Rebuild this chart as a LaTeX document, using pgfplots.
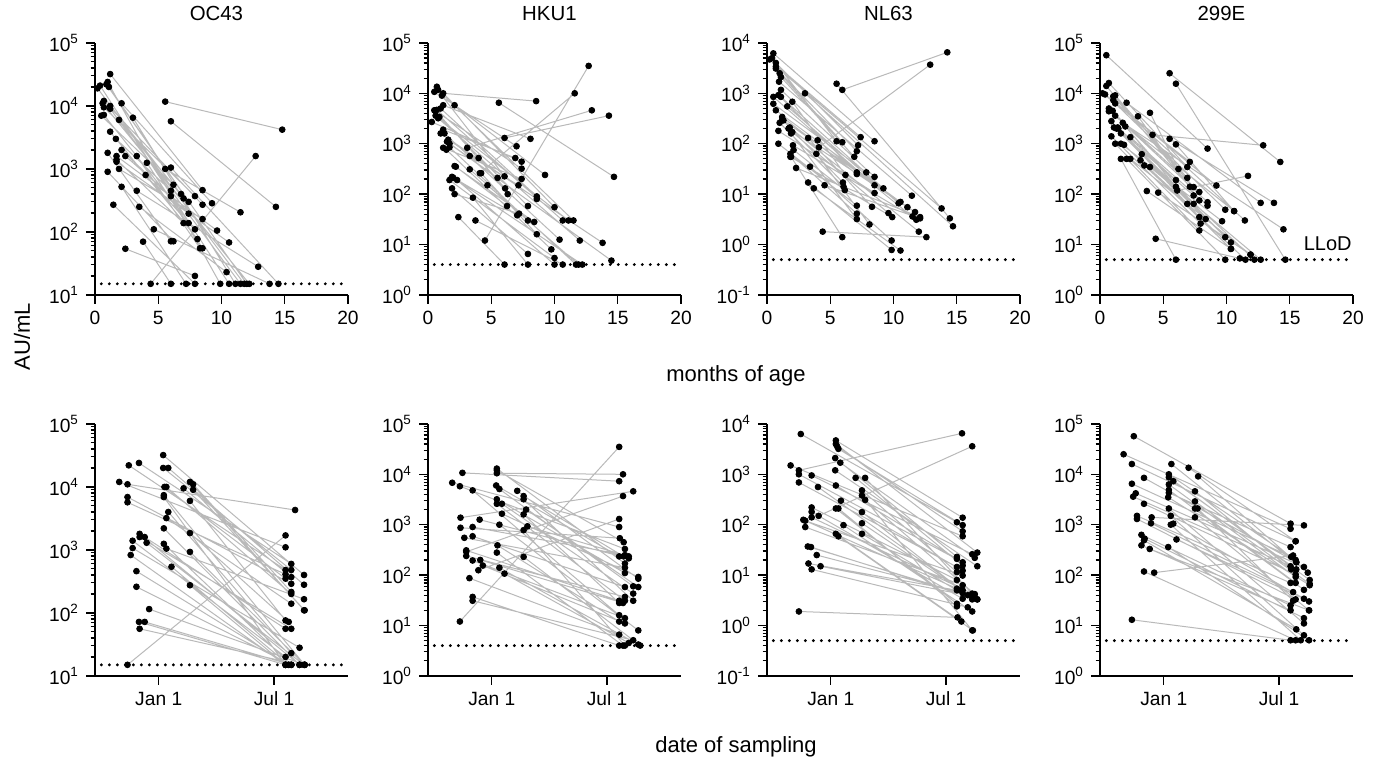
\documentclass[border=0pt]{standalone}
\usepackage{fontspec}
\setmainfont{Liberation Sans}
\usepackage{pgfplots}
\usepackage{pgfplotstable}
\pgfplotsset{compat=1.18}
\definecolor{linegray}{RGB}{185,185,185}

% each line: first sample, second sample, break
\pgfplotstableread[row sep=\\]{x y\\
0.2 1.9e4\\ 11.8 15\\ nan nan\\
0.4 2.1e4\\ 10.6 15\\ nan nan\\
0.9 2.2e4\\ 12.0 15\\ nan nan\\
1.0 2.4e4\\ 9.9 15\\ nan nan\\
1.2 3.2e4\\ 8.5 460\\ nan nan\\
1.1 2e4\\ 7.4 300\\ nan nan\\
0.7 1.2e4\\ 8.5 270\\ nan nan\\
0.6 1.1e4\\ 12.2 15\\ nan nan\\
0.7 9.5e3\\ 7.9 370\\ nan nan\\
1.2 1e4\\ 7.0 340\\ nan nan\\
1.2 9e3\\ 11.5 15\\ nan nan\\
0.5 7e3\\ 6.2 560\\ nan nan\\
0.7 7.2e3\\ 7.9 110\\ nan nan\\
2.1 1.1e4\\ 9.25 285\\ nan nan\\
1.9 6e3\\ 6.8 400\\ nan nan\\
3.0 6.5e3\\ 11.1 15\\ nan nan\\
1.2 3.9e3\\ 8.1 77\\ nan nan\\
1.65 3e3\\ 6.0 450\\ nan nan\\
2.1 2e3\\ 7.4 195\\ nan nan\\
1.7 1.6e3\\ 9.65 105\\ nan nan\\
1.7 1.4e3\\ 7.0 138\\ nan nan\\
1.7 1.3e3\\ 10.6 68\\ nan nan\\
2.4 1.6e3\\ 6.0 370\\ nan nan\\
1.0 1.8e3\\ 6.0 71\\ nan nan\\
1.9 1e3\\ 8.5 160\\ nan nan\\
1.0 900\\ 6.2 71\\ nan nan\\
3.3 1.6e3\\ 8.3 55\\ nan nan\\
4.1 1.25e3\\ 8.5 55\\ nan nan\\
4.0 800\\ 7.4 138\\ nan nan\\
2.1 520\\ 7.2 15\\ nan nan\\
3.3 450\\ 12.9 28\\ nan nan\\
1.45 270\\ 7.9 15\\ nan nan\\
3.5 250\\ 10.4 23\\ nan nan\\
2.4 54\\ 7.9 20\\ nan nan\\
3.8 70\\ 6.0 15\\ nan nan\\
4.65 110\\ 13.8 15\\ nan nan\\
4.4 15\\ 12.7 1.6e3\\ nan nan\\
5.55 1.17e4\\ 14.8 4.2e3\\ nan nan\\
6.0 5.7e3\\ 14.3 250\\ nan nan\\
5.55 1e3\\ 11.5 205\\ nan nan\\
6.0 1.05e3\\ 14.5 15\\ nan nan\\
}\octop

\pgfplotstableread[row sep=\\]{x y\\
-49 15\\ 199 1.7e3\\ nan nan\\
-49 1.1e4\\ 214 4.3e3\\ nan nan\\
-47 2.2e4\\ 199 480\\ nan nan\\
-31 2.4e4\\ 208 600\\ nan nan\\
-62 1.2e4\\ 199 1.1e3\\ nan nan\\
-49 6.9e3\\ 208 290\\ nan nan\\
-49 5.7e3\\ 199 410\\ nan nan\\
-41 1.4e3\\ 199 20\\ nan nan\\
-41 1.07e3\\ 221 28\\ nan nan\\
-44 830\\ 199 15\\ nan nan\\
-35 460\\ 204 15\\ nan nan\\
-35 260\\ 208 15\\ nan nan\\
-30 1.8e3\\ 221 15\\ nan nan\\
-30 1.6e3\\ 208 56\\ nan nan\\
-22 1.6e3\\ 199 56\\ nan nan\\
-19 1.3e3\\ 228 15\\ nan nan\\
-31 72\\ 199 15\\ nan nan\\
-22 72\\ 208 15\\ nan nan\\
-30 56\\ 221 15\\ nan nan\\
-15 115\\ 229 15\\ nan nan\\
7 3.2e4\\ 228 400\\ nan nan\\
7 2e4\\ 208 480\\ nan nan\\
15 2e4\\ 228 280\\ nan nan\\
9 1e4\\ 199 350\\ nan nan\\
12 1e4\\ 208 200\\ nan nan\\
8 7.4e3\\ 229 15\\ nan nan\\
8 6.9e3\\ 199 15\\ nan nan\\
15 4e3\\ 208 23\\ nan nan\\
12 3.2e3\\ 208 140\\ nan nan\\
8 2.2e3\\ 221 15\\ nan nan\\
8 1.25e3\\ 208 15\\ nan nan\\
12 1.05e3\\ 228 165\\ nan nan\\
20 540\\ 204 15\\ nan nan\\
39 9.5e3\\ 208 370\\ nan nan\\
49 1.2e4\\ 228 110\\ nan nan\\
54 1.1e4\\ 208 215\\ nan nan\\
54 9e3\\ 229 110\\ nan nan\\
49 6e3\\ 199 76\\ nan nan\\
49 1.85e3\\ 204 72\\ nan nan\\
49 930\\ 229 15\\ nan nan\\
49 275\\ 199 15\\ nan nan\\
}\ocbot

\pgfplotstableread[row sep=\\]{x y\\
1.2 1e4\\ 8.55 7e3\\ nan nan\\
5.6 6.5e3\\ 14.7 220\\ nan nan\\
4.5 12\\ 12.7 3.5e4\\ nan nan\\
6.05 1.3e3\\ 14.3 3.6e3\\ nan nan\\
3.1 830\\ 12.95 4.6e3\\ nan nan\\
4.1 260\\ 11.6 1e4\\ nan nan\\
0.3 2.7e3\\ 7.4 440\\ nan nan\\
0.5 1.07e4\\ 7.0 890\\ nan nan\\
0.7 1.35e4\\ 10.0 55\\ nan nan\\
0.8 1.17e4\\ 11.5 30\\ nan nan\\
0.5 4.6e3\\ 7.4 320\\ nan nan\\
0.7 4.7e3\\ 10.65 30\\ nan nan\\
1.0 5e3\\ 8.6 90\\ nan nan\\
0.6 3.6e3\\ 11.1 30\\ nan nan\\
0.9 3.4e3\\ 7.9 58\\ nan nan\\
0.8 3.2e3\\ 12.0 12\\ nan nan\\
1.2 5.8e3\\ 8.1 1.25e3\\ nan nan\\
1.2 1.9e3\\ 6.9 520\\ nan nan\\
1.0 1.6e3\\ 8.6 80\\ nan nan\\
1.3 1.6e3\\ 10.4 12.5\\ nan nan\\
1.2 830\\ 7.4 200\\ nan nan\\
1.45 760\\ 9.75 8\\ nan nan\\
1.6 1.2e3\\ 13.8 10.8\\ nan nan\\
1.7 1e3\\ 14.5 4.8\\ nan nan\\
1.7 850\\ 11.7 4\\ nan nan\\
2.1 5.8e3\\ 9.25 240\\ nan nan\\
1.7 190\\ 10.0 5.4\\ nan nan\\
1.9 220\\ 7.05 38\\ nan nan\\
2.0 210\\ 12.2 4\\ nan nan\\
1.9 130\\ 7.9 6.5\\ nan nan\\
2.1 100\\ 7.2 41\\ nan nan\\
2.1 360\\ 8.4 28\\ nan nan\\
2.3 190\\ 10.0 4\\ nan nan\\
2.4 35\\ 6.05 4\\ nan nan\\
3.3 570\\ 7.15 150\\ nan nan\\
3.3 310\\ 7.9 30\\ nan nan\\
3.55 85\\ 7.9 4\\ nan nan\\
3.75 30\\ 10.65 4\\ nan nan\\
4.0 520\\ 6.3 100\\ nan nan\\
4.2 260\\ 8.6 16\\ nan nan\\
4.7 150\\ 11.9 4\\ nan nan\\
1.1 9e3\\ 6.05 225\\ nan nan\\
0.6 4.5e3\\ 6.1 130\\ nan nan\\
1.5 1.1e3\\ 5.5 210\\ nan nan\\
2.2 350\\ 6.25 58\\ nan nan\\
}\hktop

\pgfplotstableread[row sep=\\]{x y\\
-50 12\\ 200 3.5e4\\ nan nan\\
-46 1.07e4\\ 200 7.3e3\\ nan nan\\
8 1.05e4\\ 206 1e4\\ nan nan\\
-49 1.38e3\\ 222 4.6e3\\ nan nan\\
-40 290\\ 206 3.7e3\\ nan nan\\
-21 125\\ 200 1.3e3\\ nan nan\\
-62 6.8e3\\ 200 900\\ nan nan\\
-50 5.8e3\\ 209 330\\ nan nan\\
-30 4.8e3\\ 200 16\\ nan nan\\
-49 870\\ 201 540\\ nan nan\\
-43 550\\ 209 140\\ nan nan\\
-30 900\\ 209 250\\ nan nan\\
-30 590\\ 209 58\\ nan nan\\
-40 240\\ 209 37\\ nan nan\\
-40 310\\ 200 31\\ nan nan\\
-30 195\\ 209 14\\ nan nan\\
-19 1.26e3\\ 215 215\\ nan nan\\
-18 200\\ 206 28\\ nan nan\\
-14 155\\ 209 11\\ nan nan\\
-35 87\\ 200 6.6\\ nan nan\\
-30 37\\ 200 4\\ nan nan\\
-30 31\\ 222 5.1\\ nan nan\\
8 1.3e4\\ 209 170\\ nan nan\\
8 1.2e4\\ 207 450\\ nan nan\\
7 6e3\\ 200 235\\ nan nan\\
12 5.1e3\\ 222 60\\ nan nan\\
8 3.2e3\\ 209 110\\ nan nan\\
16 2.6e3\\ 222 43\\ nan nan\\
8 2.6e3\\ 209 31\\ nan nan\\
16 1.65e3\\ 230 92\\ nan nan\\
12 1e3\\ 230 8\\ nan nan\\
9 390\\ 200 12\\ nan nan\\
8 280\\ 206 4\\ nan nan\\
12 140\\ 230 4.2\\ nan nan\\
20 107\\ 215 4.5\\ nan nan\\
40 4.7e3\\ 230 85\\ nan nan\\
50 3.7e3\\ 207 235\\ nan nan\\
50 3.2e3\\ 222 31\\ nan nan\\
54 2e3\\ 230 58\\ nan nan\\
50 1.6e3\\ 200 28\\ nan nan\\
50 780\\ 209 4\\ nan nan\\
56 930\\ 215 235\\ nan nan\\
50 230\\ 233 4\\ nan nan\\
}\hkbot

\pgfplotstableread[row sep=\\]{x y\\
5.95 1.17e3\\ 14.25 6.5e3\\ nan nan\\
4.1 85\\ 12.9 3.7e3\\ nan nan\\
4.4 1.8\\ 12.6 1.4\\ nan nan\\
5.5 1.55e3\\ 14.45 3.3\\ nan nan\\
0.5 6.2e3\\ 8.5 112\\ nan nan\\
0.2 4.7e3\\ 7.4 135\\ nan nan\\
0.7 4e3\\ 7.2 93\\ nan nan\\
0.7 3.4e3\\ 13.8 5.2\\ nan nan\\
0.7 3.1e3\\ 7.1 71\\ nan nan\\
1.1 2.1e3\\ 6.9 55\\ nan nan\\
0.95 1.7e3\\ 11.45 9.3\\ nan nan\\
1.1 1.17e3\\ 8.5 22\\ nan nan\\
0.9 920\\ 7.1 27\\ nan nan\\
1.1 850\\ 9.2 13\\ nan nan\\
0.5 850\\ 8.5 15\\ nan nan\\
0.5 620\\ 7.85 27\\ nan nan\\
0.7 460\\ 11.1 5.5\\ nan nan\\
1.2 340\\ 7.1 25\\ nan nan\\
1.3 290\\ 10.55 7\\ nan nan\\
0.9 180\\ 8.5 10.5\\ nan nan\\
0.9 100\\ 7.1 5.9\\ nan nan\\
1.6 550\\ 10.4 6.6\\ nan nan\\
2.0 680\\ 6.2 24\\ nan nan\\
1.7 200\\ 11.7 4.4\\ nan nan\\
2.0 170\\ 9.6 4.2\\ nan nan\\
2.05 93\\ 11.5 3.6\\ nan nan\\
1.85 63\\ 7.1 4.1\\ nan nan\\
1.85 55\\ 9.9 3.5\\ nan nan\\
2.3 33\\ 12.1 3.5\\ nan nan\\
3.0 1e3\\ 14.7 2.3\\ nan nan\\
3.25 130\\ 8.3 5.6\\ nan nan\\
3.4 35\\ 9.85 1.2\\ nan nan\\
3.25 17\\ 9.85 0.78\\ nan nan\\
3.7 13\\ 10.55 0.76\\ nan nan\\
4.0 117\\ 11.8 3.1\\ nan nan\\
3.9 63\\ 8.1 2.5\\ nan nan\\
4.55 15\\ 12.1 3.3\\ nan nan\\
0.4 5e3\\ 5.5 112\\ nan nan\\
1.0 2.5e3\\ 5.95 107\\ nan nan\\
1.2 300\\ 6.0 17\\ nan nan\\
1.0 260\\ 6.05 14\\ nan nan\\
2.1 75\\ 6.15 12\\ nan nan\\
1.9 55\\ 5.95 1.4\\ nan nan\\
1.8 210\\ 12.0 1.8\\ nan nan\\
1.9 160\\ 7.1 3.2\\ nan nan\\
}\nltop

\pgfplotstableread[row sep=\\]{x y\\
-50 1.2e3\\ 206 6.5e3\\ nan nan\\
-19 150\\ 222 3.6e3\\ nan nan\\
-50 1.9\\ 199 1.45\\ nan nan\\
-47 6.3e3\\ 198 112\\ nan nan\\
-63 1.5e3\\ 207 59\\ nan nan\\
-50 1e3\\ 207 18\\ nan nan\\
-50 690\\ 198 14.5\\ nan nan\\
-30 950\\ 222 26\\ nan nan\\
-20 560\\ 207 5\\ nan nan\\
-30 220\\ 198 8\\ nan nan\\
-30 180\\ 207 3.4\\ nan nan\\
-30 140\\ 222 4.3\\ nan nan\\
-43 125\\ 198 5.4\\ nan nan\\
-40 120\\ 207 9.8\\ nan nan\\
-40 90\\ 207 6.3\\ nan nan\\
-36 37\\ 222 3.7\\ nan nan\\
-31 36\\ 230 3.3\\ nan nan\\
-22 25\\ 207 4.4\\ nan nan\\
-35 17\\ 198 5\\ nan nan\\
-30 13\\ 215 2.3\\ nan nan\\
-16 15\\ 226 3.7\\ nan nan\\
8 4.7e3\\ 207 138\\ nan nan\\
8 4e3\\ 230 28\\ nan nan\\
12 3.2e3\\ 207 98\\ nan nan\\
10 3.6e3\\ 207 74\\ nan nan\\
7 2.1e3\\ 198 23\\ nan nan\\
15 1.7e3\\ 226 22\\ nan nan\\
7 1.2e3\\ 230 15\\ nan nan\\
8 600\\ 198 21\\ nan nan\\
16 300\\ 207 12.3\\ nan nan\\
8 210\\ 198 2.7\\ nan nan\\
12 210\\ 198 2.4\\ nan nan\\
20 98\\ 222 1.9\\ nan nan\\
8 66\\ 205 1.2\\ nan nan\\
12 59\\ 223 0.8\\ nan nan\\
39 850\\ 207 15.5\\ nan nan\\
54 850\\ 230 3.3\\ nan nan\\
49 480\\ 198 11.5\\ nan nan\\
49 380\\ 222 0.8\\ nan nan\\
54 310\\ 226 4.2\\ nan nan\\
49 178\\ 215 4\\ nan nan\\
49 107\\ 205 5\\ nan nan\\
49 66\\ 222 3.3\\ nan nan\\
}\nlbot

\pgfplotstableread[row sep=\\]{x y\\
6.0 1.55e4\\ 14.65 5\\ nan nan\\
5.5 2.5e4\\ 14.25 435\\ nan nan\\
4.15 1.5e3\\ 12.9 930\\ nan nan\\
4.4 13\\ 11.05 5.3\\ nan nan\\
0.5 5.7e4\\ 8.5 800\\ nan nan\\
6.1 118\\ 11.7 230\\ nan nan\\
0.2 1e4\\ 7.1 435\\ nan nan\\
0.4 9.5e3\\ 9.2 148\\ nan nan\\
0.5 1.4e4\\ 7.1 140\\ nan nan\\
0.7 1.6e4\\ 6.9 345\\ nan nan\\
0.7 5e3\\ 7.85 110\\ nan nan\\
0.7 4.4e3\\ 10.6 46\\ nan nan\\
1.05 8.7e3\\ 7.4 138\\ nan nan\\
1.2 9.1e3\\ 6.9 210\\ nan nan\\
1.05 7.3e3\\ 11.45 30\\ nan nan\\
1.2 6.3e3\\ 9.9 49\\ nan nan\\
0.9 2.8e3\\ 7.85 35\\ nan nan\\
1.2 3.6e3\\ 8.5 69\\ nan nan\\
1.1 2.1e3\\ 7.4 94\\ nan nan\\
1.3 2e3\\ 9.9 14\\ nan nan\\
1.45 2e3\\ 10.35 11\\ nan nan\\
0.9 1.4e3\\ 7.95 26\\ nan nan\\
1.2 1e3\\ 7.85 19\\ nan nan\\
1.65 1.6e3\\ 8.35 32\\ nan nan\\
1.8 2.6e3\\ 14.5 20\\ nan nan\\
2.0 2.2e3\\ 7.4 64\\ nan nan\\
1.65 1e3\\ 9.65 29\\ nan nan\\
1.9 950\\ 10.35 8.2\\ nan nan\\
2.1 6.5e3\\ 12.7 67\\ nan nan\\
2.4 1.35e3\\ 8.5 59\\ nan nan\\
1.65 500\\ 6.0 5\\ nan nan\\
2.1 500\\ 9.9 5\\ nan nan\\
2.4 500\\ 11.9 6.3\\ nan nan\\
3.0 3.5e3\\ 7.85 75\\ nan nan\\
3.3 620\\ 12.2 5\\ nan nan\\
3.2 470\\ 6.9 64\\ nan nan\\
3.5 370\\ 11.5 5\\ nan nan\\
3.95 345\\ 12.7 5\\ nan nan\\
3.95 4.1e3\\ 6.2 315\\ nan nan\\
3.7 115\\ 10.35 8.2\\ nan nan\\
4.6 107\\ 11.9 6.3\\ nan nan\\
5.5 1.25e3\\ 13.75 67\\ nan nan\\
6.0 970\\ 10.6 46\\ nan nan\\
1.0 4.5e3\\ 6.0 140\\ nan nan\\
1.4 2.1e3\\ 6.0 190\\ nan nan\\
}\hetop

\pgfplotstableread[row sep=\\]{x y\\
-50 13\\ 199 5.1\\ nan nan\\
-19 1.4e3\\ 220 970\\ nan nan\\
-15 112\\ 203 245\\ nan nan\\
-47 5.7e4\\ 199 1.05e3\\ nan nan\\
-63 2.5e4\\ 199 830\\ nan nan\\
-50 1.6e4\\ 207 470\\ nan nan\\
-50 6.5e3\\ 200 230\\ nan nan\\
-31 8.5e3\\ 208 180\\ nan nan\\
-48 3.6e3\\ 199 150\\ nan nan\\
-44 4.2e3\\ 220 145\\ nan nan\\
-31 2.6e3\\ 207 103\\ nan nan\\
-42 1.5e3\\ 199 70\\ nan nan\\
-42 1.3e3\\ 207 33\\ nan nan\\
-20 1.07e3\\ 203 46\\ nan nan\\
-35 630\\ 199 25\\ nan nan\\
-30 530\\ 220 14\\ nan nan\\
-31 490\\ 208 8.4\\ nan nan\\
-35 390\\ 199 20\\ nan nan\\
-22 330\\ 228 20\\ nan nan\\
-31 118\\ 207 5.1\\ nan nan\\
12 1.6e4\\ 226 112\\ nan nan\\
8 1e4\\ 207 200\\ nan nan\\
8 8.7e3\\ 229 80\\ nan nan\\
15 7.3e3\\ 208 130\\ nan nan\\
8 6.3e3\\ 207 92\\ nan nan\\
8 4.9e3\\ 220 51\\ nan nan\\
8 4.3e3\\ 199 360\\ nan nan\\
7 3.5e3\\ 229 63\\ nan nan\\
8 2.1e3\\ 220 11\\ nan nan\\
11 1.5e3\\ 220 6.4\\ nan nan\\
15 1.05e3\\ 228 30\\ nan nan\\
11 1e3\\ 215 5.1\\ nan nan\\
20 510\\ 220 34\\ nan nan\\
7 360\\ 228 5.1\\ nan nan\\
39 1.35e4\\ 207 470\\ nan nan\\
54 9.1e3\\ 208 180\\ nan nan\\
49 4.6e3\\ 200 130\\ nan nan\\
49 2.9e3\\ 229 67\\ nan nan\\
49 2.1e3\\ 207 70\\ nan nan\\
53 2.1e3\\ 203 31\\ nan nan\\
49 1.4e3\\ 228 20\\ nan nan\\
}\hebot

\pgfplotsset{
  mypanel/.style={
    scale only axis, width=126.5pt, height=126pt,
    anchor=south west, clip=false,
    axis x line*=bottom, axis y line*=left,
    axis line style={line width=0.9pt},
    tick align=outside,
    major tick length=4.5pt, minor tick length=2.2pt,
    tick style={black, line width=0.7pt},
    minor tick style={black, line width=0.6pt},
    minor ytick={0.2,0.3,0.4,0.5,0.6,0.7,0.8,0.9,2,3,4,5,6,7,8,9,20,30,40,50,60,70,80,90,200,300,400,500,600,700,800,900,2000,3000,4000,5000,6000,7000,8000,9000,20000,30000,40000,50000,60000,70000,80000,90000},
    tick label style={font=\fontsize{9.6}{11}\selectfont},
    /pgf/number format/assume math mode=true,
    yticklabel={\pgfmathtruncatemacro\ex{round(\tick)}10\textsuperscript{\ex}},
    title style={font=\fontsize{10.2}{12}\selectfont, at={(0.48,1)}, anchor=base, yshift=5pt},
  },
  mytoprow/.style={xmin=0, xmax=20, xtick={0,5,10,15,20}},
  mybotrow/.style={xmin=-100, xmax=297, xtick={0,181}, xticklabels={Jan 1,Jul 1}},
  pairline/.style={linegray, line width=0.5pt, unbounded coords=jump, no marks},
  dots/.style={only marks, mark=*, mark size=1.45pt, black},
  llod/.style={black, line width=1.6pt, dash pattern=on 0pt off 4pt, line cap=round, no marks},
}

\begin{document}
\begin{tikzpicture}
\path (0,0) rectangle (689.5pt,380pt);

% top row: months of age
\begin{axis}[ymode=log, log basis y=10, mypanel, mytoprow, at={(47.5pt,234.5pt)}, ymin=10, ymax=1e5, ytickten={1,2,3,4,5}, title={OC43}]
\addplot[llod] coordinates {(0.5,15)(19.6,15)};
\addplot[pairline] table {\octop};
\addplot[dots] table {\octop};
\end{axis}

\begin{axis}[ymode=log, log basis y=10, mypanel, mytoprow, at={(214pt,234.5pt)}, ymin=1, ymax=1e5, ytickten={0,1,2,3,4,5}, title={HKU1}]
\addplot[llod] coordinates {(0.5,4)(19.6,4)};
\addplot[pairline] table {\hktop};
\addplot[dots] table {\hktop};
\end{axis}

\begin{axis}[ymode=log, log basis y=10, mypanel, mytoprow, at={(383.5pt,234.5pt)}, ymin=0.1, ymax=1e4, ytickten={-1,0,1,2,3,4}, title={NL63}]
\addplot[llod] coordinates {(0.5,0.5)(19.6,0.5)};
\addplot[pairline] table {\nltop};
\addplot[dots] table {\nltop};
\end{axis}

\begin{axis}[ymode=log, log basis y=10, mypanel, mytoprow, at={(550pt,234.5pt)}, ymin=1, ymax=1e5, ytickten={0,1,2,3,4,5}, title={299E}]
\addplot[llod] coordinates {(0.5,5)(19.6,5)};
\addplot[pairline] table {\hetop};
\addplot[dots] table {\hetop};
\node[font=\fontsize{10}{12}\selectfont] at (axis cs:18,10.3) {LLoD};
\end{axis}

% bottom row: date of sampling
\begin{axis}[ymode=log, log basis y=10, mypanel, mybotrow, at={(47.5pt,44pt)}, ymin=10, ymax=1e5, ytickten={1,2,3,4,5}]
\addplot[llod] coordinates {(-90,15)(289,15)};
\addplot[pairline] table {\ocbot};
\addplot[dots] table {\ocbot};
\end{axis}

\begin{axis}[ymode=log, log basis y=10, mypanel, mybotrow, at={(214pt,44pt)}, ymin=1, ymax=1e5, ytickten={0,1,2,3,4,5}]
\addplot[llod] coordinates {(-90,4)(289,4)};
\addplot[pairline] table {\hkbot};
\addplot[dots] table {\hkbot};
\end{axis}

\begin{axis}[ymode=log, log basis y=10, mypanel, mybotrow, at={(383.5pt,44pt)}, ymin=0.1, ymax=1e4, ytickten={-1,0,1,2,3,4}]
\addplot[llod] coordinates {(-90,0.5)(289,0.5)};
\addplot[pairline] table {\nlbot};
\addplot[dots] table {\nlbot};
\end{axis}

\begin{axis}[ymode=log, log basis y=10, mypanel, mybotrow, at={(550pt,44pt)}, ymin=1, ymax=1e5, ytickten={0,1,2,3,4,5}]
\addplot[llod] coordinates {(-90,5)(289,5)};
\addplot[pairline] table {\hebot};
\addplot[dots] table {\hebot};
\end{axis}

\node[rotate=90, font=\fontsize{11}{13}\selectfont] at (11pt,213.5pt) {AU/mL};
\node[font=\fontsize{11}{13}\selectfont] at (368pt,194pt) {months of age};
\node[font=\fontsize{11}{13}\selectfont] at (368pt,8.5pt) {date of sampling};
\end{tikzpicture}
\end{document}
